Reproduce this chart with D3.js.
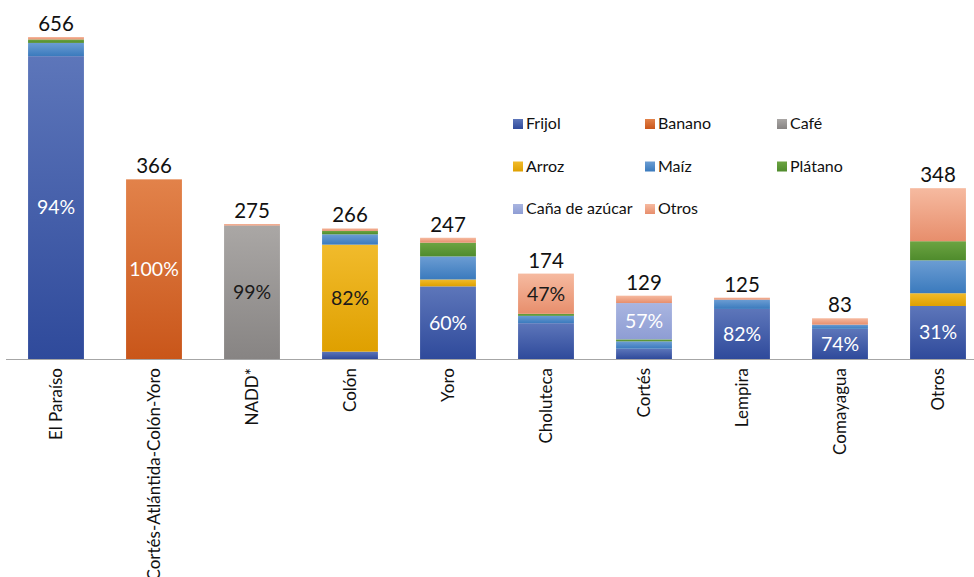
<!DOCTYPE html>
<html>
<head>
<meta charset="utf-8">
<script src="https://cdn.jsdelivr.net/npm/d3@7"></script>
<style>
  body { margin: 0; background: #fff; }
  text { font-family: Lato, "Open Sans", sans-serif; }
</style>
</head>
<body>
<div id="chart"></div>
<script>
// data
let categories = ["El Paraíso", "Cortés-Atlántida-Colón-Yoro", "NADD*", "Colón", "Yoro",
    "Choluteca", "Cortés", "Lempira", "Comayagua", "Otros"];
let seriesNames = ["Frijol", "Banano", "Café", "Arroz", "Maíz", "Plátano", "Caña de azúcar", "Otros"];
let frijol  = [617, 0,   0,   15,  148, 73, 21, 102, 61.5, 108];
let banano  = [0,   366, 0,   0,   0,   0,  0,  0,   0,    0];
let cafe    = [0,   0,   272, 0,   0,   0,  0,  0,   0,    0];
let arroz   = [0,   0,   0,   218, 14,  0,  0,  0,   0,    26];
let maiz    = [27,  0,   0,   21,  47,  15, 15, 19,  8.5,  67];
let platano = [7,   0,   0,   7,   28,  4,  4,  0,   0,    39];
let cana    = [0,   0,   0,   0,   0,   0,  74, 0,   0,    0];
let otros   = [5,   0,   3,   5,   10,  82, 15, 4,   13,   108];
// which series carries the percentage label in each bar
let pctSeries = [0, 1, 2, 3, 0, 7, 6, 0, 0, 0];

let colors = [
    ["#5d76ba", "#2f4a9b"],
    ["#e2824a", "#c9561a"],
    ["#aaa7a5", "#878483"],
    ["#f1bb2c", "#dfa000"],
    ["#6c9dd3", "#3a7abd"],
    ["#6ca442", "#4f8b2c"],
    ["#a9b5e0", "#8e9dd4"],
    ["#f6baa0", "#e78e6c"]
];
let pctColor = ["#fff", "#fff", "#1a1a1a", "#1a1a1a", "#fff", "#fff", "#fff", "#1a1a1a"];

let width = 974, height = 577;
let values = [frijol, banano, cafe, arroz, maiz, platano, cana, otros];

let rows = categories.map(function (c, i) {
    let r = {cat: c};
    seriesNames.forEach(function (s, j) { r[s] = values[j][i]; });
    return r;
});
let totals = categories.map(function (c, i) {
    return d3.sum(values, function (v) { return v[i]; });
});

let svg = d3.select("#chart").append("svg")
    .attr("width", width)
    .attr("height", height);

let defs = svg.append("defs");
colors.forEach(function (c, i) {
    let g = defs.append("linearGradient")
        .attr("id", "grad" + i)
        .attr("x1", 0).attr("y1", 0).attr("x2", 0).attr("y2", 1);
    g.append("stop").attr("offset", "0%").attr("stop-color", c[0]);
    g.append("stop").attr("offset", "100%").attr("stop-color", c[1]);
});

let x = d3.scaleBand()
    .domain(categories)
    .range([7, 987])
    .paddingInner(0.43)
    .paddingOuter(0.215);

let y = d3.scaleLinear()
    .domain([0, 656])
    .range([359, 37]);

let stack = d3.stack().keys(seriesNames);
let layers = stack(rows);

let layer = svg.append("g").selectAll("g")
    .data(layers)
    .enter().append("g")
    .attr("fill", function (d, i) { return "url(#grad" + i + ")"; });

layer.selectAll("rect")
    .data(function (d) { return d; })
    .enter().append("rect")
    .filter(function (d) { return d[1] - d[0] > 0; })
    .attr("x", function (d) { return x(d.data.cat); })
    .attr("width", x.bandwidth())
    .attr("y", function (d) { return y(d[1]); })
    .attr("height", function (d) { return y(d[0]) - y(d[1]); });

// percentage labels
svg.append("g").selectAll("text")
    .data(categories)
    .enter().append("text")
    .attr("x", function (d) { return x(d) + x.bandwidth() / 2; })
    .attr("y", function (d, i) {
        let seg = layers[pctSeries[i]][i];
        return (y(seg[0]) + y(seg[1])) / 2;
    })
    .attr("dy", "0.35em")
    .attr("text-anchor", "middle")
    .attr("font-size", 19.5)
    .attr("fill", function (d, i) { return pctColor[pctSeries[i]]; })
    .text(function (d, i) {
        return Math.round(values[pctSeries[i]][i] / totals[i] * 100) + "%";
    });

// totals above bars
svg.append("g").selectAll("text")
    .data(categories)
    .enter().append("text")
    .attr("x", function (d) { return x(d) + x.bandwidth() / 2; })
    .attr("y", function (d, i) { return y(totals[i]) - 6; })
    .attr("text-anchor", "middle")
    .attr("font-size", 20.5)
    .attr("fill", "#111")
    .text(function (d, i) { return totals[i]; });

// x axis
let xAxis = svg.append("g")
    .attr("transform", "translate(0,359)")
    .call(d3.axisBottom(x).tickSize(0).tickPadding(0));
xAxis.select(".domain").attr("stroke", "#a6a6a6").attr("d", "M6,0.5H974");
xAxis.selectAll("text")
    .attr("font-size", 17)
    .attr("fill", "#111")
    .attr("text-anchor", "end")
    .attr("dy", null)
    .attr("transform", "translate(0,9) rotate(-90) translate(0,6)");

// legend
let legendX = [513, 645, 777], legendY = [119, 161.5, 204];
let legend = svg.append("g").selectAll("g")
    .data(seriesNames)
    .enter().append("g")
    .attr("transform", function (d, i) {
        return "translate(" + legendX[i % 3] + "," + legendY[Math.floor(i / 3)] + ")";
    });
legend.append("rect")
    .attr("width", 10).attr("height", 10)
    .attr("fill", function (d, i) { return "url(#grad" + i + ")"; });
legend.append("text")
    .attr("x", 13).attr("y", 10)
    .attr("font-size", 16)
    .attr("fill", "#111")
    .text(function (d) { return d; });
</script>
</body>
</html>
